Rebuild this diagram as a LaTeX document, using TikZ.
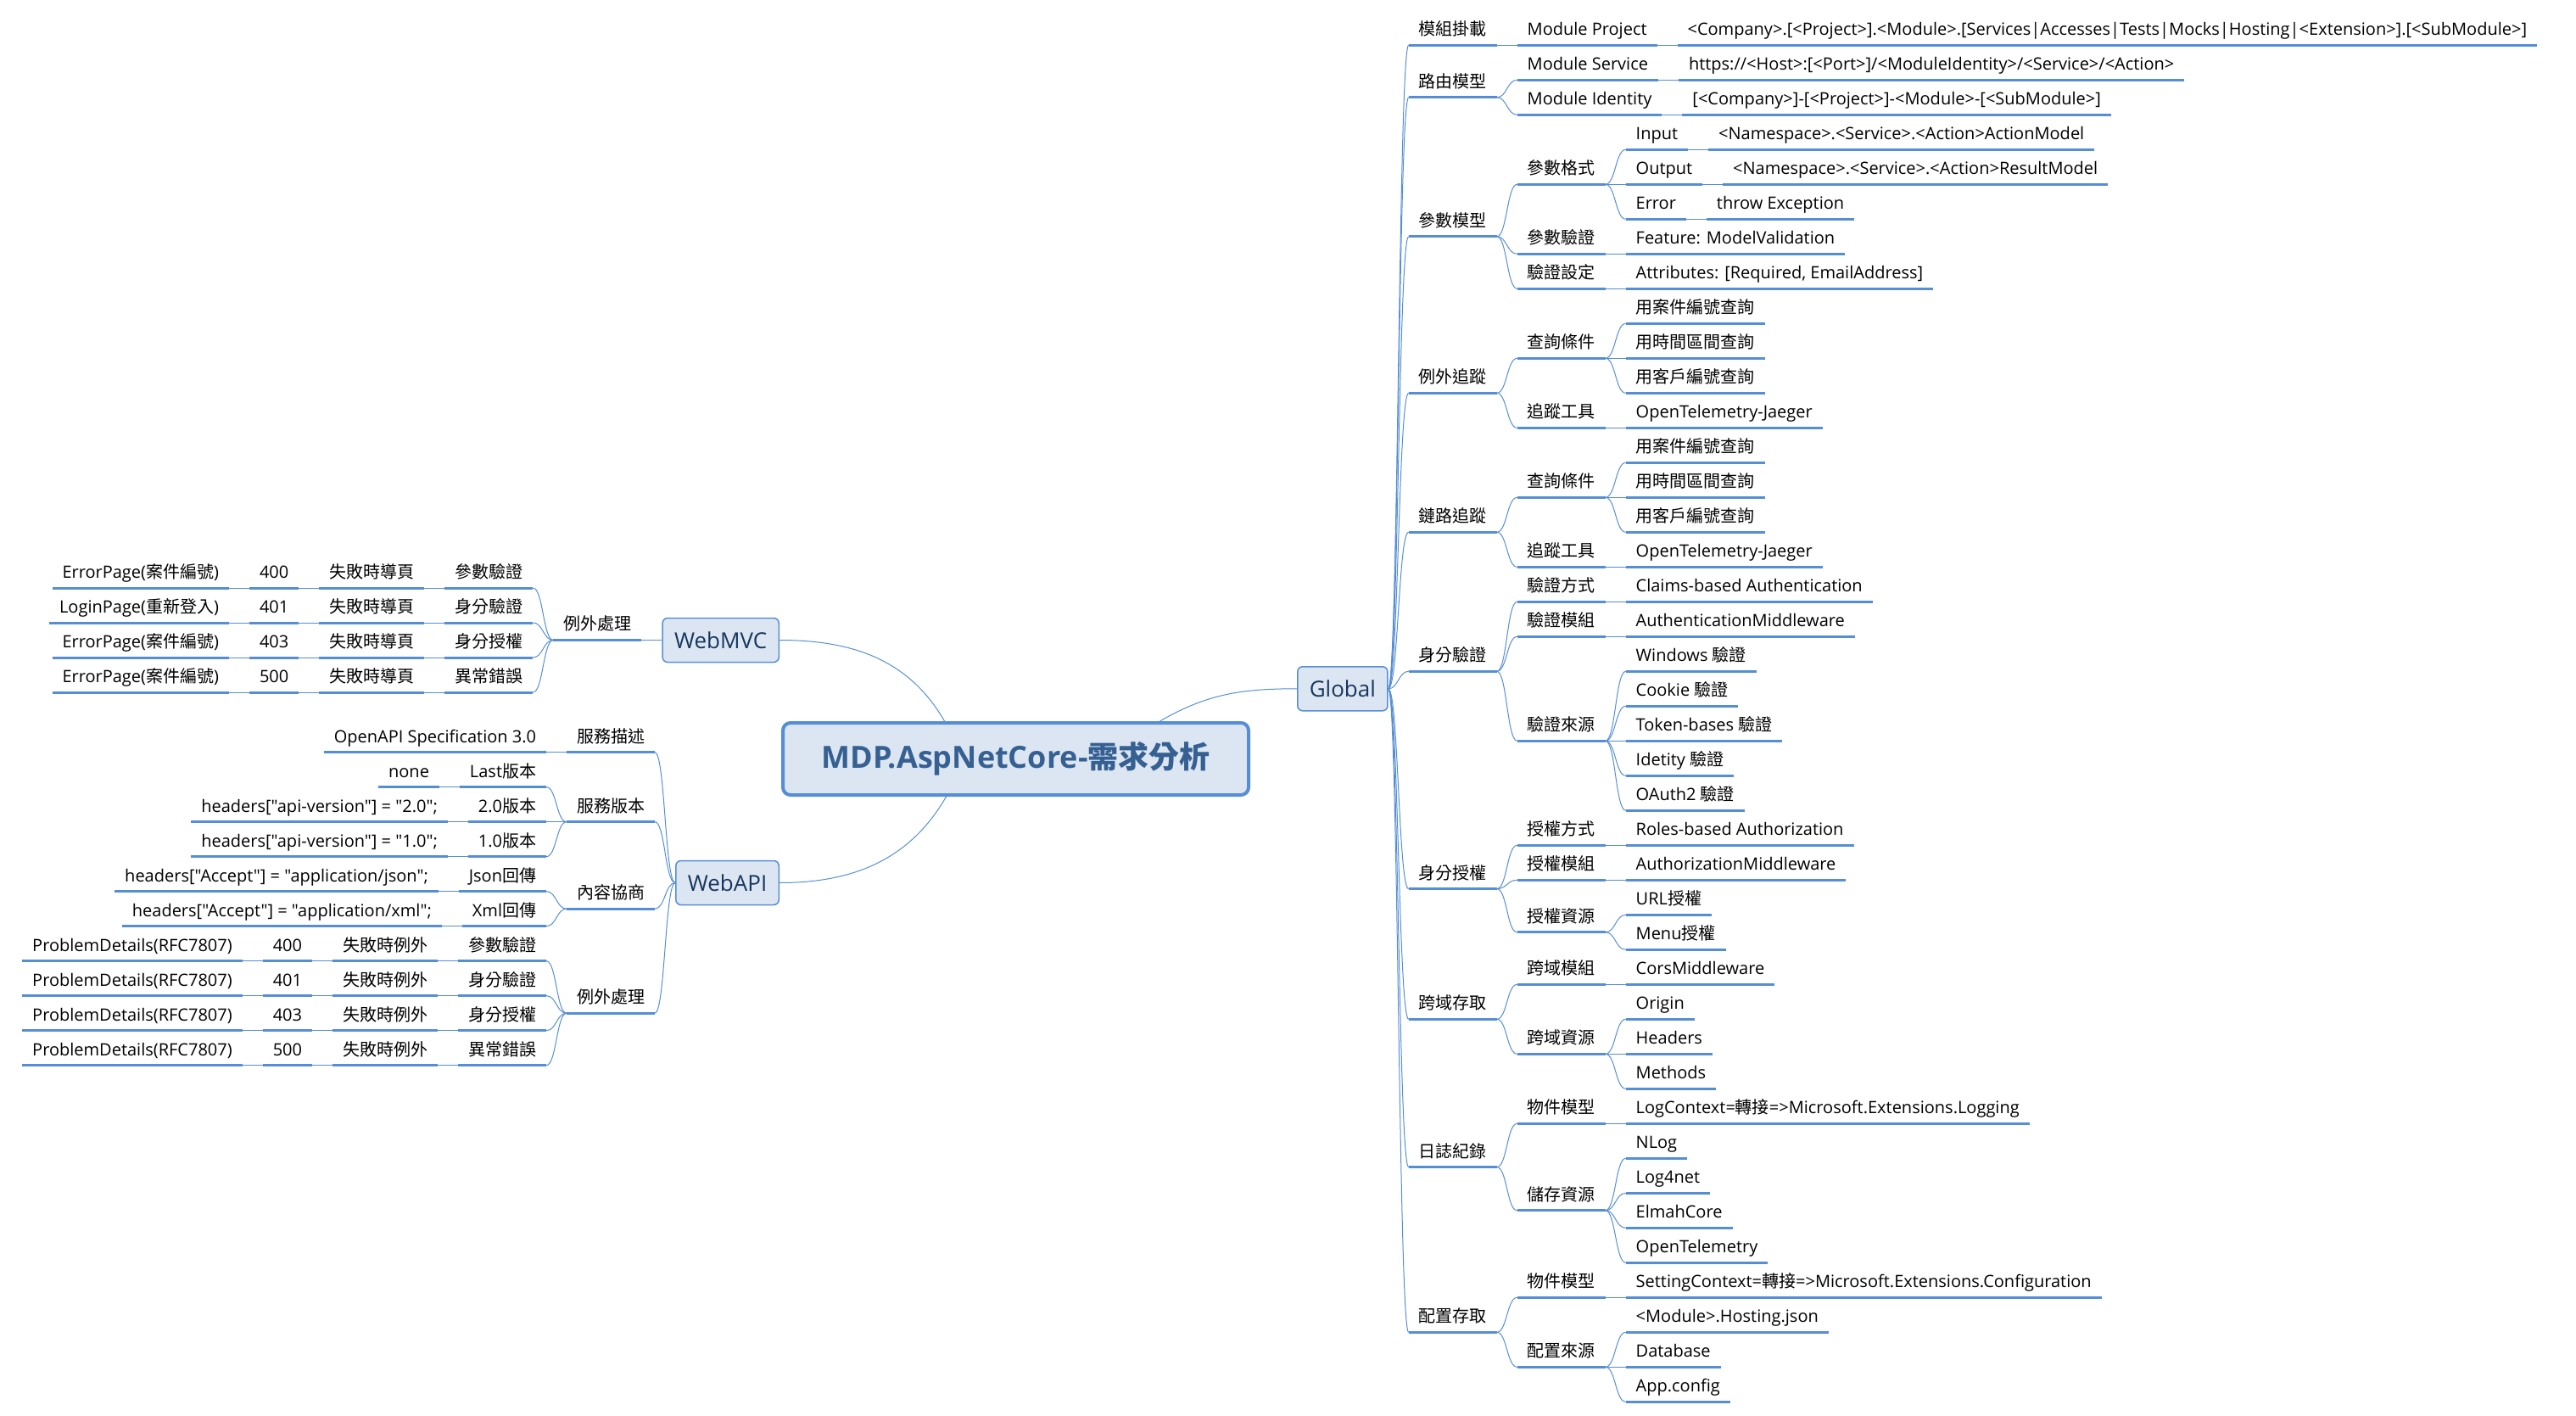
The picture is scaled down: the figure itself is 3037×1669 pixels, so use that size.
\documentclass[tikz,border=0pt]{standalone}
\usepackage{fontspec}
\setmainfont{Open Sans}[Ligatures=TeXOff]
\newfontfamily\cjk{Noto Sans CJK TC}
\newcommand{\zh}[1]{{\cjk #1}}
\definecolor{cornflower}{RGB}{85, 142, 213}
\definecolor{powder}{RGB}{220, 230, 242}
\definecolor{midnight}{RGB}{23, 54, 93}
\definecolor{sapphire}{RGB}{54, 96, 146}
% child to the right of / to the left of a parent anchor, on row y
\newcommand{\rkid}[4]{\node[leaf, anchor=south west, xshift=12pt] (#1) at (#2 |- 0,#3) {#4};
  \draw[uline] (#1.south west) -- (#1.south east);
  \draw[link] (#2) to[rcurve] (#1.south west);}
\newcommand{\lkid}[4]{\node[leaf, anchor=south east, xshift=-12pt] (#1) at (#2 |- 0,#3) {#4};
  \draw[uline] (#1.south west) -- (#1.south east);
  \draw[link] (#2) to[lcurve] (#1.south east);}
\begin{document}
\begin{tikzpicture}[x=0.5pt, y=-0.5pt,
    leaf/.style={inner xsep=6pt, inner ysep=0pt, outer sep=0pt, text height=7.5pt, text depth=5.8pt, font=\fontsize{10pt}{12pt}\selectfont},
    uline/.style={draw=cornflower, line width=1.5pt},
    link/.style={draw=cornflower, line width=0.5pt},
    rcurve/.style={to path={.. controls +(6pt,0) and +(-6pt,0) .. (\tikztotarget)}},
    lcurve/.style={to path={.. controls +(-6pt,0) and +(6pt,0) .. (\tikztotarget)}},
    topic/.style={draw=cornflower, fill=powder, line width=0.75pt, rounded corners=3pt, inner xsep=7pt, minimum height=26pt, text=midnight, font=\fontsize{13pt}{15pt}\selectfont},
    core/.style={draw=cornflower, fill=powder, line width=2pt, rounded corners=4.5pt, minimum width=274.5pt, minimum height=42.5pt, text=sapphire, font=\fontsize{18pt}{20pt}\selectfont\bfseries}]
    \useasboundingbox (0,0) rectangle (3037,1669);
    \node[core]                  (core)   at (1197.5, 894.5) {MDP.AspNetCore-\zh{需求分析}};
    \node[topic, anchor=west]    (global) at (1529.0, 811.8) {Global};
    \node[topic, anchor=east]    (webmvc) at ( 919.0, 754.5) {WebMVC};
    \node[topic, anchor=east]    (webapi) at ( 919.0,1040.5) {WebAPI};
    \draw[link] ([xshift=85pt]core.north)  to[out=30,  in=180] (global.west);
    \draw[link] ([xshift=-42pt]core.north) to[out=120, in=0]   (webmvc.east);
    \draw[link] ([xshift=-41pt]core.south) to[out=240, in=0]   (webapi.east);
    % Global
    \rkid{g1}{global.east}{53.3}{\zh{模組掛載}}
    \rkid{g1a}{g1.south east}{53.3}{Module Project}
    \rkid{g1b}{g1a.south east}{53.3}{<Company>.[<Project>].<Module>.[Services|Accesses|Tests|Mocks|Hosting|<Extension>].[<SubModule>]}
    \rkid{g2}{global.east}{114.8}{\zh{路由模型}}
    \rkid{g2a}{g2.south east}{94.3}{Module Service}
    \rkid{g2b}{g2a.south east}{94.3}{https://<Host>:[<Port>]/<ModuleIdentity>/<Service>/<Action>}
    \rkid{g2c}{g2.south east}{135.3}{Module Identity}
    \rkid{g2d}{g2c.south east}{135.3}{[<Company>]-[<Project>]-<Module>-[<SubModule>]}
    \rkid{g3}{global.east}{278.8}{\zh{參數模型}}
    \rkid{g3a}{g3.south east}{217.3}{\zh{參數格式}}
    \rkid{g3aa}{g3a.south east}{176.3}{Input}
    \rkid{g3ab}{g3aa.south east}{176.3}{<Namespace>.<Service>.<Action>ActionModel}
    \rkid{g3ac}{g3a.south east}{217.3}{Output}
    \rkid{g3ad}{g3ac.south east}{217.3}{<Namespace>.<Service>.<Action>ResultModel}
    \rkid{g3ae}{g3a.south east}{258.3}{Error}
    \rkid{g3af}{g3ae.south east}{258.3}{throw Exception}
    \rkid{g3b}{g3.south east}{299.3}{\zh{參數驗證}}
    \rkid{g3ba}{g3b.south east}{299.3}{Feature: ModelValidation}
    \rkid{g3c}{g3.south east}{340.3}{\zh{驗證設定}}
    \rkid{g3ca}{g3c.south east}{340.3}{Attributes: [Required, EmailAddress]}
    \rkid{g4}{global.east}{463.3}{\zh{例外追蹤}}
    \rkid{g4a}{g4.south east}{422.3}{\zh{查詢條件}}
    \rkid{g4aa}{g4a.south east}{381.3}{\zh{用案件編號查詢}}
    \rkid{g4ab}{g4a.south east}{422.3}{\zh{用時間區間查詢}}
    \rkid{g4ac}{g4a.south east}{463.3}{\zh{用客戶編號查詢}}
    \rkid{g4b}{g4.south east}{504.3}{\zh{追蹤工具}}
    \rkid{g4ba}{g4b.south east}{504.3}{OpenTelemetry-Jaeger}
    \rkid{g5}{global.east}{627.3}{\zh{鏈路追蹤}}
    \rkid{g5a}{g5.south east}{586.3}{\zh{查詢條件}}
    \rkid{g5aa}{g5a.south east}{545.3}{\zh{用案件編號查詢}}
    \rkid{g5ab}{g5a.south east}{586.3}{\zh{用時間區間查詢}}
    \rkid{g5ac}{g5a.south east}{627.3}{\zh{用客戶編號查詢}}
    \rkid{g5b}{g5.south east}{668.3}{\zh{追蹤工具}}
    \rkid{g5ba}{g5b.south east}{668.3}{OpenTelemetry-Jaeger}
    \rkid{g6}{global.east}{791.3}{\zh{身分驗證}}
    \rkid{g6a}{g6.south east}{709.3}{\zh{驗證方式}}
    \rkid{g6aa}{g6a.south east}{709.3}{Claims-based Authentication}
    \rkid{g6b}{g6.south east}{750.3}{\zh{驗證模組}}
    \rkid{g6ba}{g6b.south east}{750.3}{AuthenticationMiddleware}
    \rkid{g6c}{g6.south east}{873.3}{\zh{驗證來源}}
    \rkid{g6ca}{g6c.south east}{791.3}{Windows \zh{驗證}}
    \rkid{g6cb}{g6c.south east}{832.3}{Cookie \zh{驗證}}
    \rkid{g6cc}{g6c.south east}{873.3}{Token-bases \zh{驗證}}
    \rkid{g6cd}{g6c.south east}{914.3}{Idetity \zh{驗證}}
    \rkid{g6ce}{g6c.south east}{955.3}{OAuth2 \zh{驗證}}
    \rkid{g7}{global.east}{1047.6}{\zh{身分授權}}
    \rkid{g7a}{g7.south east}{996.3}{\zh{授權方式}}
    \rkid{g7aa}{g7a.south east}{996.3}{Roles-based Authorization}
    \rkid{g7b}{g7.south east}{1037.3}{\zh{授權模組}}
    \rkid{g7ba}{g7b.south east}{1037.3}{AuthorizationMiddleware}
    \rkid{g7c}{g7.south east}{1098.8}{\zh{授權資源}}
    \rkid{g7ca}{g7c.south east}{1078.3}{URL\zh{授權}}
    \rkid{g7cb}{g7c.south east}{1119.3}{Menu\zh{授權}}
    \rkid{g8}{global.east}{1201.3}{\zh{跨域存取}}
    \rkid{g8a}{g8.south east}{1160.3}{\zh{跨域模組}}
    \rkid{g8aa}{g8a.south east}{1160.3}{CorsMiddleware}
    \rkid{g8b}{g8.south east}{1242.3}{\zh{跨域資源}}
    \rkid{g8ba}{g8b.south east}{1201.3}{Origin}
    \rkid{g8bb}{g8b.south east}{1242.3}{Headers}
    \rkid{g8bc}{g8b.south east}{1283.3}{Methods}
    \rkid{g9}{global.east}{1375.6}{\zh{日誌紀錄}}
    \rkid{g9a}{g9.south east}{1324.3}{\zh{物件模型}}
    \rkid{g9aa}{g9a.south east}{1324.3}{LogContext=\zh{轉接}=>Microsoft.Extensions.Logging}
    \rkid{g9b}{g9.south east}{1426.8}{\zh{儲存資源}}
    \rkid{g9ba}{g9b.south east}{1365.3}{NLog}
    \rkid{g9bb}{g9b.south east}{1406.3}{Log4net}
    \rkid{g9bc}{g9b.south east}{1447.3}{ElmahCore}
    \rkid{g9bd}{g9b.south east}{1488.3}{OpenTelemetry}
    \rkid{g10}{global.east}{1570.3}{\zh{配置存取}}
    \rkid{g10a}{g10.south east}{1529.3}{\zh{物件模型}}
    \rkid{g10aa}{g10a.south east}{1529.3}{SettingContext=\zh{轉接}=>Microsoft.Extensions.Configuration}
    \rkid{g10b}{g10.south east}{1611.3}{\zh{配置來源}}
    \rkid{g10ba}{g10b.south east}{1570.3}{<Module>.Hosting.json}
    \rkid{g10bb}{g10b.south east}{1611.3}{Database}
    \rkid{g10bc}{g10b.south east}{1652.3}{App.config}
    % WebMVC
    \lkid{m1}{webmvc.west}{754.5}{\zh{例外處理}}
    \lkid{m1a}{m1.south west}{693}{\zh{參數驗證}}
    \lkid{m1aa}{m1a.south west}{693}{\zh{失敗時導頁}}
    \lkid{m1ab}{m1aa.south west}{693}{400}
    \lkid{m1ac}{m1ab.south west}{693}{ErrorPage(\zh{案件編號})}
    \lkid{m1b}{m1.south west}{734}{\zh{身分驗證}}
    \lkid{m1ba}{m1b.south west}{734}{\zh{失敗時導頁}}
    \lkid{m1bb}{m1ba.south west}{734}{401}
    \lkid{m1bc}{m1bb.south west}{734}{LoginPage(\zh{重新登入})}
    \lkid{m1c}{m1.south west}{775}{\zh{身分授權}}
    \lkid{m1ca}{m1c.south west}{775}{\zh{失敗時導頁}}
    \lkid{m1cb}{m1ca.south west}{775}{403}
    \lkid{m1cc}{m1cb.south west}{775}{ErrorPage(\zh{案件編號})}
    \lkid{m1d}{m1.south west}{816}{\zh{異常錯誤}}
    \lkid{m1da}{m1d.south west}{816}{\zh{失敗時導頁}}
    \lkid{m1db}{m1da.south west}{816}{500}
    \lkid{m1dc}{m1db.south west}{816}{ErrorPage(\zh{案件編號})}
    % WebAPI
    \lkid{a1}{webapi.west}{886.7}{\zh{服務描述}}
    \lkid{a1a}{a1.south west}{886.7}{OpenAPI Specification 3.0}
    \lkid{a2}{webapi.west}{968.7}{\zh{服務版本}}
    \lkid{a2a}{a2.south west}{927.7}{Last\zh{版本}}
    \lkid{a2aa}{a2a.south west}{927.7}{none}
    \lkid{a2b}{a2.south west}{968.7}{2.0\zh{版本}}
    \lkid{a2ba}{a2b.south west}{968.7}{headers["api-version"] = "2.0";}
    \lkid{a2c}{a2.south west}{1009.7}{1.0\zh{版本}}
    \lkid{a2ca}{a2c.south west}{1009.7}{headers["api-version"] = "1.0";}
    \lkid{a3}{webapi.west}{1071.2}{\zh{內容協商}}
    \lkid{a3a}{a3.south west}{1050.7}{Json\zh{回傳}}
    \lkid{a3aa}{a3a.south west}{1050.7}{headers["Accept"] = "application/json";}
    \lkid{a3b}{a3.south west}{1091.7}{Xml\zh{回傳}}
    \lkid{a3ba}{a3b.south west}{1091.7}{headers["Accept"] = "application/xml";}
    \lkid{a4}{webapi.west}{1194.2}{\zh{例外處理}}
    \lkid{a4a}{a4.south west}{1132.7}{\zh{參數驗證}}
    \lkid{a4aa}{a4a.south west}{1132.7}{\zh{失敗時例外}}
    \lkid{a4ab}{a4aa.south west}{1132.7}{400}
    \lkid{a4ac}{a4ab.south west}{1132.7}{ProblemDetails(RFC7807)}
    \lkid{a4b}{a4.south west}{1173.7}{\zh{身分驗證}}
    \lkid{a4ba}{a4b.south west}{1173.7}{\zh{失敗時例外}}
    \lkid{a4bb}{a4ba.south west}{1173.7}{401}
    \lkid{a4bc}{a4bb.south west}{1173.7}{ProblemDetails(RFC7807)}
    \lkid{a4c}{a4.south west}{1214.7}{\zh{身分授權}}
    \lkid{a4ca}{a4c.south west}{1214.7}{\zh{失敗時例外}}
    \lkid{a4cb}{a4ca.south west}{1214.7}{403}
    \lkid{a4cc}{a4cb.south west}{1214.7}{ProblemDetails(RFC7807)}
    \lkid{a4d}{a4.south west}{1255.7}{\zh{異常錯誤}}
    \lkid{a4da}{a4d.south west}{1255.7}{\zh{失敗時例外}}
    \lkid{a4db}{a4da.south west}{1255.7}{500}
    \lkid{a4dc}{a4db.south west}{1255.7}{ProblemDetails(RFC7807)}
\end{tikzpicture}
\end{document}
